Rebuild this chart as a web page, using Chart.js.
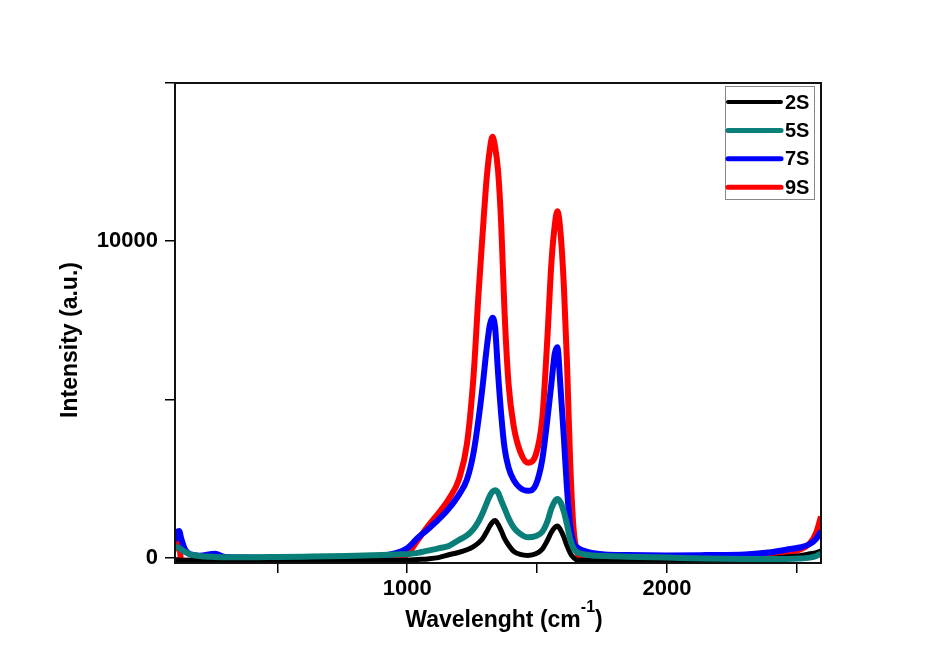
<!DOCTYPE html>
<html><head><meta charset="utf-8">
<script src="https://cdn.jsdelivr.net/npm/chart.js@4.4.0/dist/chart.umd.min.js"></script>
<style>html,body{margin:0;padding:0;background:#fff;}#wrap{width:941px;height:669px;}</style>
</head><body><div id="wrap"><canvas id="c" width="941" height="669"></canvas></div>
<script>
// Raman shift grid (cm^-1)
const wavenumber = [106,115,122,130,145,165,200,260,300,400,500,600,700,800,900,960,1000,1040,1080,1120,1160,1200,1230,1255,1275,1290,1305,1318,1328,1338,1350,1362,1375,1390,1410,1435,1465,1495,1520,1540,1555,1568,1578,1590,1603,1615,1627,1640,1655,1675,1710,1760,1850,2000,2150,2300,2400,2460,2510,2550,2575,2593];
const s2S = [-60,-70,-80,-80,-80,-80,-80,-80,-80,-80,-80,-80,-80,-80,-80,-80,-80,-60,-40,0,90,170,250,350,470,600,800,1000,1120,1170,1050,850,600,400,200,100,70,120,270,550,800,950,1000,880,650,380,150,0,-80,-80,-80,-80,-80,-80,-80,-80,-30,20,60,120,160,210];
const s5S = [320,330,300,260,180,104,50,20,10,10,20,30,40,60,80,100,110,150,220,290,370,560,700,900,1150,1400,1700,1950,2080,2130,2050,1800,1550,1250,950,750,640,680,820,1150,1550,1780,1850,1750,1450,1050,600,300,170,110,70,50,30,0,-30,-40,-40,-40,-30,0,50,126];
const s7S = [525,800,840,600,250,104,60,120,20,0,-10,10,20,30,60,150,300,620,900,1200,1550,2000,2470,3300,4400,5400,6550,7350,7580,7300,5800,4500,3450,2850,2450,2200,2110,2300,3100,4400,5500,6450,6650,5400,3800,2200,1050,480,320,230,150,100,80,70,80,100,170,250,320,430,600,840];
const s9S = [200,650,500,-100,-100,-100,-100,-100,-90,-100,-100,-90,-100,-80,-80,-50,100,550,1000,1400,1850,2500,3600,5700,8400,10200,11900,12900,13300,13000,12200,10500,7700,5500,4150,3350,3000,3250,4400,7000,9300,10500,10950,10300,8600,6200,3100,950,150,-50,-100,-100,-100,-100,-90,-60,50,150,250,450,800,1300];
const seriesLabels = ['2S','5S','7S','9S'];
const seriesColors = ['#000000','#0a7f7a','#0000ff','#ff0000'];
const seriesWidths = [5,6,6,6];
const seriesOrder = [1,0,2,3];
const seriesValues = [s2S,s5S,s7S,s9S];
const xTickValues = [500,1000,1500,2000,2500];
const xTickLabels = [1000,2000];
const yTickValues = [0,5000,10000,15000];
const yTickLabels = [0,10000];
const xTitle = 'Wavelenght (cm';
const xTitleSup = '-1';
const yTitle = 'Intensity (a.u.)';

const FONT = 'Liberation Sans, Arial, Helvetica, sans-serif';

const datasets = seriesValues.map((vals,i)=>({
  label: seriesLabels[i],
  data: wavenumber.map((x,k)=>({x:x,y:vals[k]})),
  borderColor: seriesColors[i],
  backgroundColor: seriesColors[i],
  borderWidth: seriesWidths[i],
  pointRadius: 0,
  cubicInterpolationMode: 'monotone',
  order: seriesOrder[i],
  fill: false
}));

const decor = {
  id:'decor',
  beforeDraw(chart){
    const c=chart.ctx; c.save(); c.fillStyle='#fff'; c.fillRect(0,0,chart.width,chart.height); c.restore();
  },
  afterDraw(chart){
    const c=chart.ctx, a=chart.chartArea;
    c.save();
    c.strokeStyle='#111'; c.lineWidth=2;
    c.strokeRect(a.left,a.top,a.right-a.left,a.bottom-a.top);
    const lx0=725, ly0=86, lw=89, lh=113;
    c.fillStyle='#fff'; c.fillRect(lx0,ly0,lw,lh);
    c.strokeStyle='#888'; c.lineWidth=1; c.strokeRect(lx0+0.5,ly0+0.5,lw,lh);
    chart.data.datasets.forEach((d,i)=>{
      const y=102+i*28.4;
      c.strokeStyle=d.borderColor; c.lineWidth=d.borderWidth-1; c.lineCap='round';
      c.beginPath(); c.moveTo(728,y); c.lineTo(781,y); c.stroke();
      c.fillStyle='#000'; c.font='bold 20px '+FONT; c.textBaseline='middle'; c.textAlign='left';
      c.fillText(d.label,785,y+1);
    });
    c.save();
    c.translate(77,340); c.rotate(-Math.PI/2);
    c.font='bold 23px '+FONT; c.fillStyle='#000'; c.textAlign='center'; c.textBaseline='alphabetic';
    c.fillText(yTitle,0,0);
    c.restore();
    c.font='bold 23px '+FONT;
    const w1=c.measureText(xTitle).width;
    c.font='bold 16px '+FONT;
    const w2=c.measureText(xTitleSup).width;
    c.font='bold 23px '+FONT;
    const w3=c.measureText(')').width;
    let x=504-(w1+w2+w3)/2;
    c.fillStyle='#000'; c.textAlign='left'; c.textBaseline='alphabetic';
    c.fillText(xTitle,x,627); x+=w1;
    c.font='bold 16px '+FONT; c.fillText(xTitleSup,x,612); x+=w2;
    c.font='bold 23px '+FONT; c.fillText(')',x,627);
    c.restore();
  }
};

new Chart(document.getElementById('c'),{
  type:'line',
  data:{datasets:datasets},
  options:{
    responsive:false, animation:false, devicePixelRatio:1,
    layout:{padding:{left:0,right:120,top:83,bottom:0}},
    plugins:{legend:{display:false},tooltip:{enabled:false},title:{display:false}},
    scales:{
      x:{type:'linear',min:106,max:2593,
        afterFit(s){s.height=106;},
        afterBuildTicks(s){s.ticks=xTickValues.map(v=>({value:v}));},
        ticks:{autoSkip:false,maxRotation:0,padding:3,color:'#000',
          font:{family:FONT,size:22,weight:'bold'},
          callback:(v)=>xTickLabels.includes(v)?String(v):''},
        grid:{drawOnChartArea:false,drawTicks:true,tickLength:10,color:'#000',lineWidth:1.5},
        border:{display:true,color:'#111',width:2}},
      y:{type:'linear',min:-170,max:15000,
        afterFit(s){s.width=175;},
        afterBuildTicks(s){s.ticks=yTickValues.map(v=>({value:v}));},
        ticks:{autoSkip:false,padding:7,color:'#000',
          font:{family:FONT,size:22,weight:'bold'},
          callback:(v)=>yTickLabels.includes(v)?String(v):''},
        grid:{drawOnChartArea:false,drawTicks:true,tickLength:10,color:'#000',lineWidth:1.5},
        border:{display:true,color:'#111',width:2}}
    }
  },
  plugins:[decor]
});
</script></body></html>
